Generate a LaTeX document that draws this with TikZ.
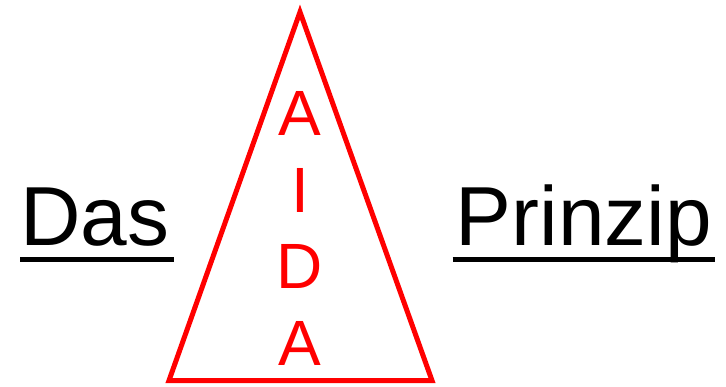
\documentclass[tikz,border=0pt]{standalone}
\usepackage{fontspec}
\setmainfont{Liberation Sans}
\usepackage{tikz}
\usetikzlibrary{calc}
\definecolor{aidared}{HTML}{FF0000}
\definecolor{ink}{HTML}{000000}

\begin{document}
\begin{tikzpicture}[
  x=1pt,y=-1pt,
  word/.style={inner sep=0pt,anchor=base,font=\fontsize{83.8}{90}\selectfont,text=ink},
  letter/.style={inner sep=0pt,anchor=base,font=\fontsize{64}{70}\selectfont,text=aidared},
  uline/.style={draw=ink,line width=5.5pt},
  pyramid/.style={draw=aidared,line width=5pt,line join=miter}]
  \useasboundingbox (0,0) rectangle (726,386);
  % pyramid
  \coordinate (top) at (300,12);
  \coordinate (bl) at (169,380.5);
  \coordinate (br) at (432,380.5);
  \draw[pyramid] (top) -- (br) -- (bl) -- cycle;
  \node[letter] (a1) at (300,135) {A};
  \node[letter] (i) at (300,212) {I};
  \node[letter] (d) at (300,288) {D};
  \node[letter] (a2) at (300,365) {A};
  % words left and right
  \node[word] (das) at (95,245) {Das};
  \node[word] (prinzip) at (584,245) {Prinzip};
  \draw[uline] ($(das.base west)+(0,14.5)$) -- ($(das.base east)+(4,14.5)$);
  \draw[uline] ($(prinzip.base west)+(-3,14.5)$) -- ($(prinzip.base east)+(3,14.5)$);
\end{tikzpicture}
\end{document}
